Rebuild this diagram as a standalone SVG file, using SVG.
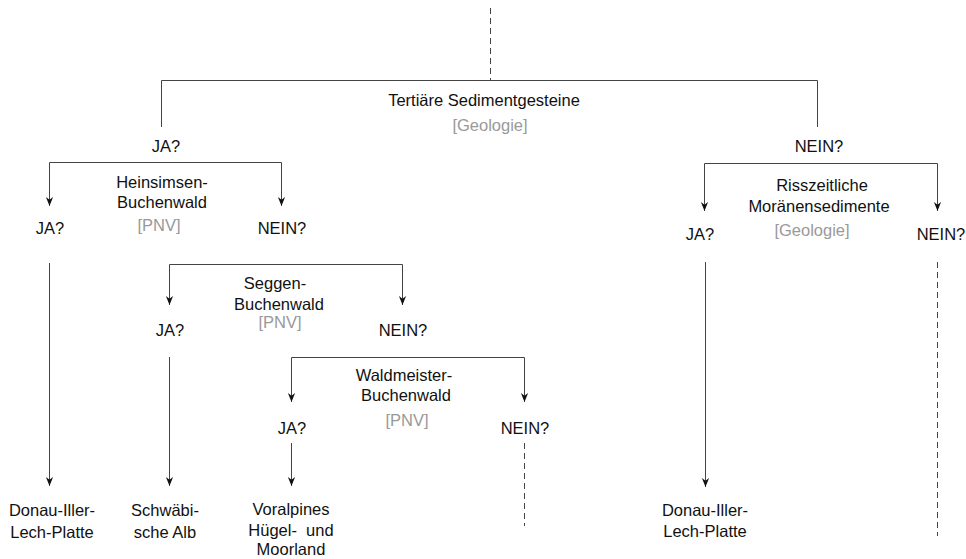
<svg xmlns="http://www.w3.org/2000/svg" width="966" height="559" viewBox="0 0 966 559">
<style>
text{font-family:"Liberation Sans",Arial,sans-serif;font-size:16.5px;fill:#111;text-anchor:middle}
text.g{fill:#999}
.ln{fill:none;stroke:#444;stroke-width:1}
.ds{fill:none;stroke:#444;stroke-width:1;stroke-dasharray:6,4}
.ar{marker-end:url(#arr)}
.ar2{marker-start:url(#arr);marker-end:url(#arr)}
</style>
<defs>
<marker id="arr" viewBox="0 0 10 10" refX="10" refY="5" markerWidth="9" markerHeight="9" markerUnits="userSpaceOnUse" orient="auto-start-reverse">
<path d="M0,1 L10,5 L0,9 L3,5 z" fill="#111"/>
</marker>
</defs>
<rect width="966" height="559" fill="#fff"/>
<g id="connectors">
<path class="ds" d="M490.5,8 V80"/>
<path class="ln" d="M161.5,127 V80.5 H817.5 V127"/>
<path class="ln ar2" d="M49.5,206 V162.5 H281.5 V206"/>
<path class="ln ar" d="M49.5,263 V486"/>
<path class="ln ar2" d="M169.5,305 V264.5 H402.5 V305"/>
<path class="ln ar" d="M169.5,357 V486"/>
<path class="ln ar2" d="M291.5,402 V357.5 H524.5 V402"/>
<path class="ln ar" d="M291.5,443 V486"/>
<path class="ds" d="M524.5,443 V526"/>
<path class="ln ar2" d="M704.5,211 V163.5 H937.5 V211"/>
<path class="ln ar" d="M705.5,262 V487"/>
<path class="ds" d="M937.5,262 V536"/>
</g>
<g id="q-tertiaer">
<text x="484" y="106">Tertiäre Sedimentgesteine</text>
<text class="g" x="490" y="131">[Geologie]</text>
</g>
<g id="l-ja-1"><text x="166" y="152">JA?</text></g>
<g id="l-nein-1"><text x="819" y="152">NEIN?</text></g>
<g id="q-heinsimsen">
<text x="162" y="188">Heinsimsen-</text>
<text x="162" y="208">Buchenwald</text>
<text class="g" x="159" y="231">[PNV]</text>
</g>
<g id="l-ja-2"><text x="50" y="234">JA?</text></g>
<g id="l-nein-2"><text x="282" y="234">NEIN?</text></g>
<g id="r-donau-1">
<text x="52" y="516">Donau-Iller-</text>
<text x="52" y="538">Lech-Platte</text>
</g>
<g id="q-seggen">
<text x="275" y="289">Seggen-</text>
<text x="279" y="310">Buchenwald</text>
<text class="g" x="280" y="328">[PNV]</text>
</g>
<g id="l-ja-3"><text x="170" y="336">JA?</text></g>
<g id="l-nein-3"><text x="403" y="336">NEIN?</text></g>
<g id="r-alb">
<text x="165" y="516">Schwäbi-</text>
<text x="165" y="538">sche Alb</text>
</g>
<g id="q-waldmeister">
<text x="404" y="381">Waldmeister-</text>
<text x="406" y="401">Buchenwald</text>
<text class="g" x="407" y="426">[PNV]</text>
</g>
<g id="l-ja-4"><text x="292" y="434">JA?</text></g>
<g id="l-nein-4"><text x="525" y="434">NEIN?</text></g>
<g id="r-voralpines">
<text x="291" y="515">Voralpines</text>
<text x="291" y="536" xml:space="preserve">Hügel-  und</text>
<text x="291" y="555">Moorland</text>
</g>
<g id="q-risszeit">
<text x="822" y="191">Risszeitliche</text>
<text x="819" y="212">Moränensedimente</text>
<text class="g" x="812" y="236">[Geologie]</text>
</g>
<g id="l-ja-5"><text x="700" y="240">JA?</text></g>
<g id="l-nein-5"><text x="941" y="240">NEIN?</text></g>
<g id="r-donau-2">
<text x="705" y="516">Donau-Iller-</text>
<text x="705" y="537">Lech-Platte</text>
</g>
</svg>
